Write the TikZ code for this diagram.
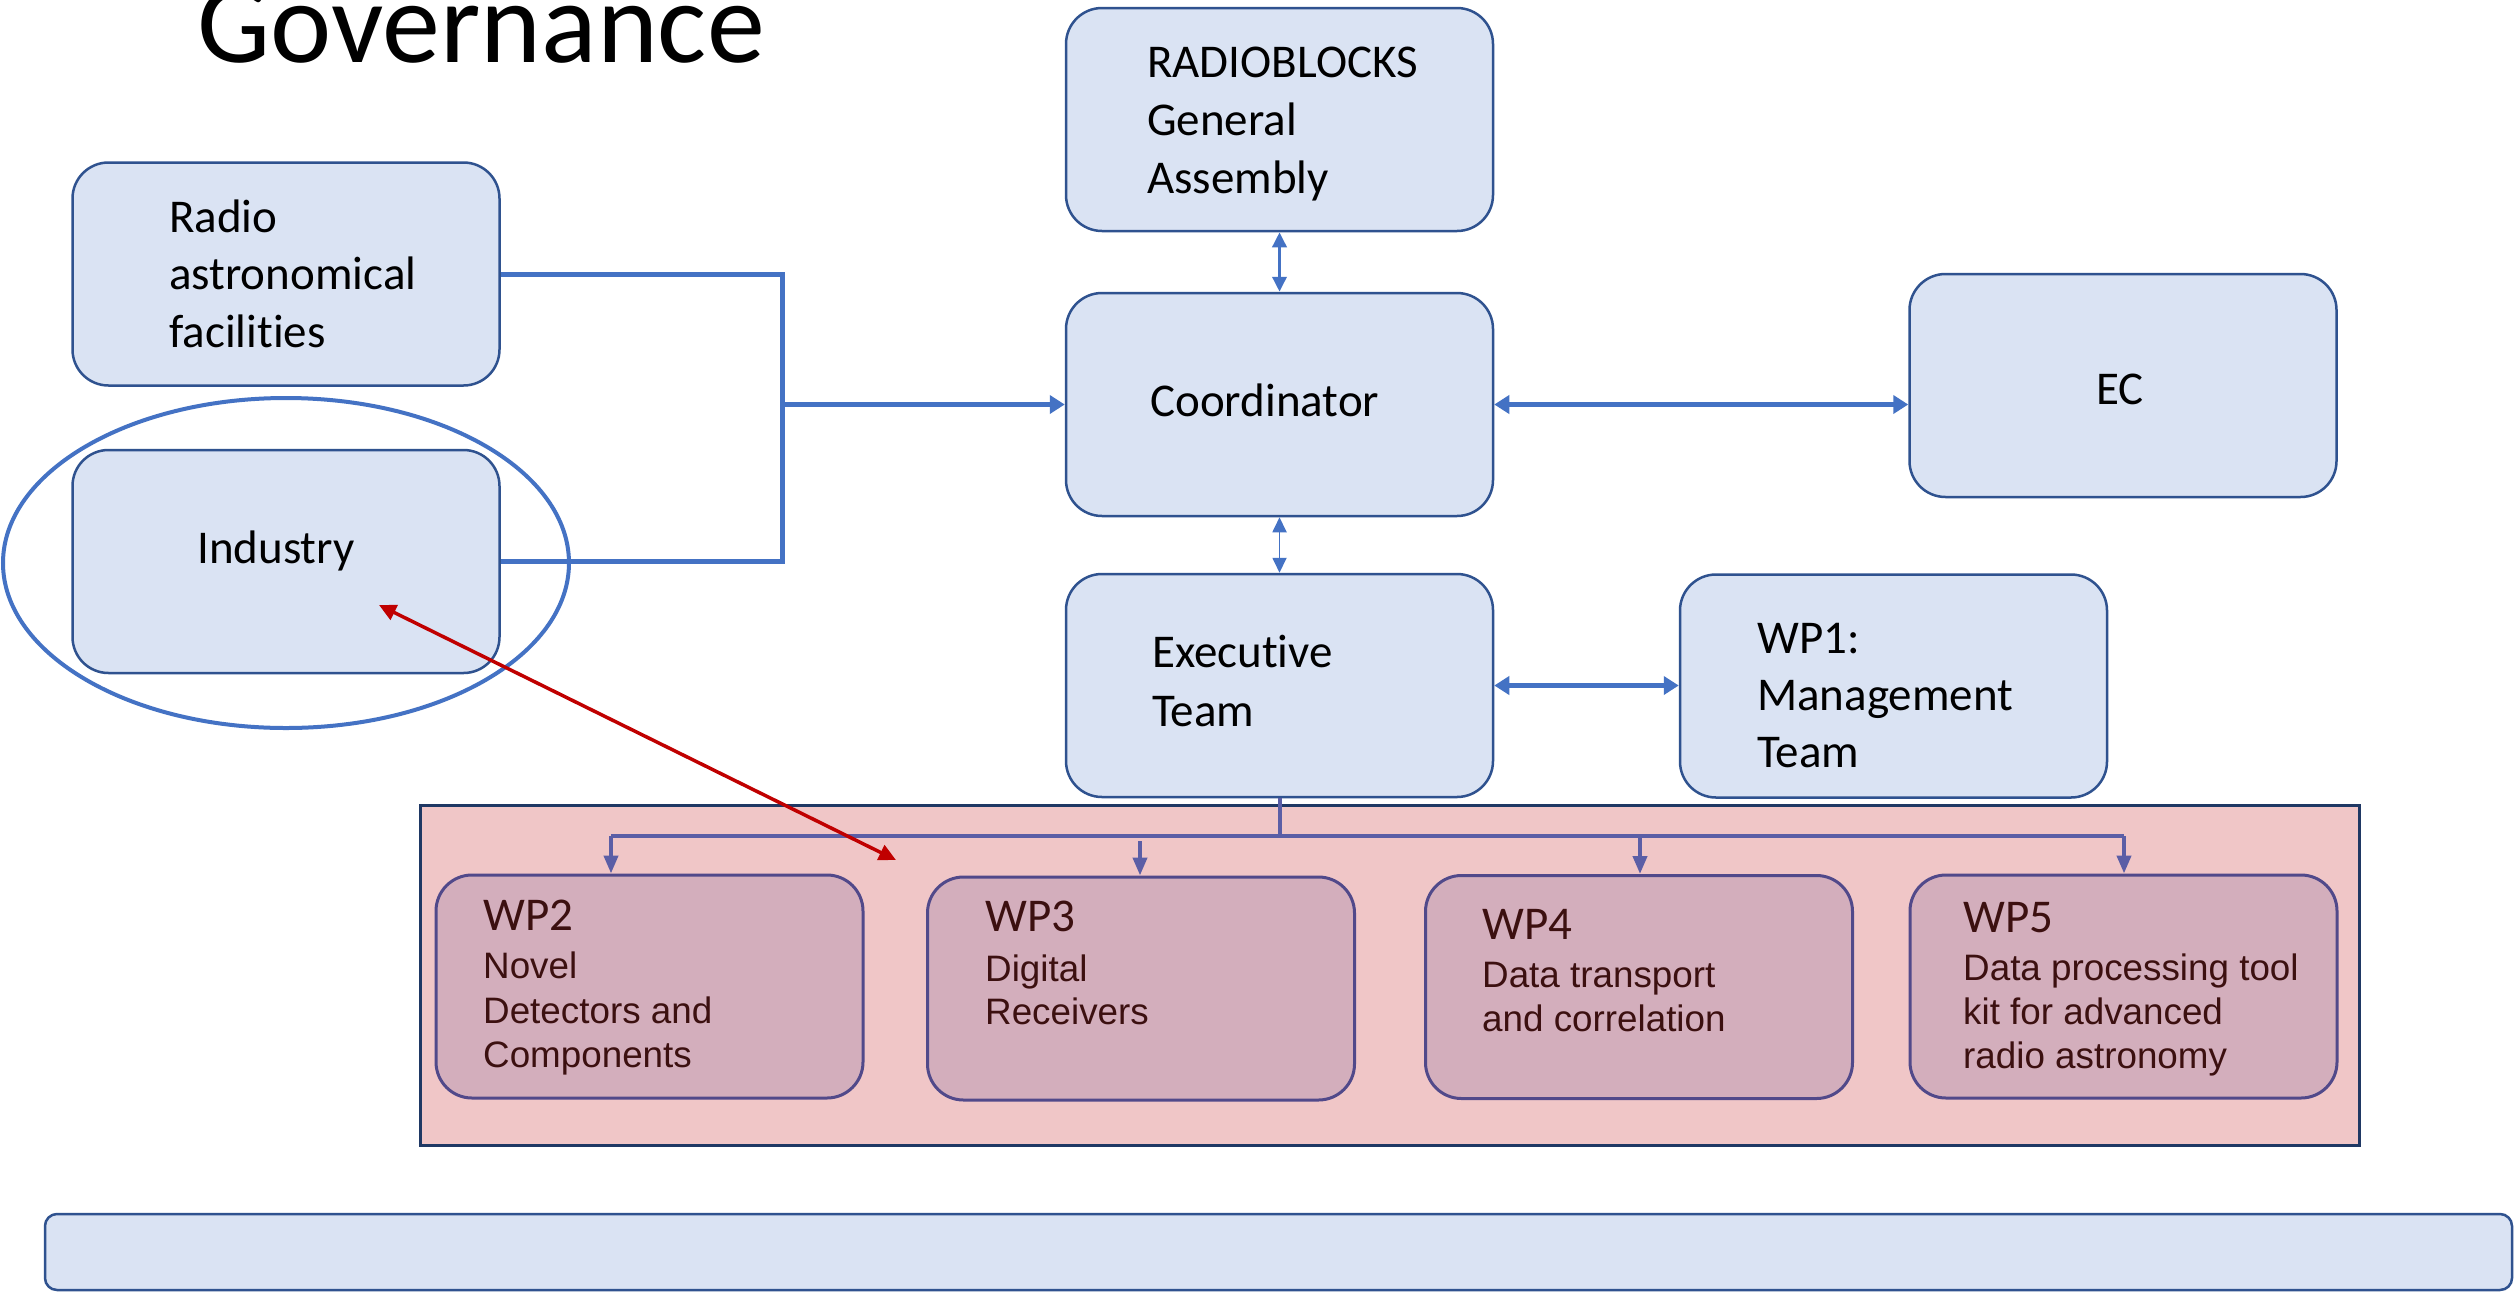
\documentclass[tikz,border=0pt]{standalone}
\usepackage{fontspec}
\setmainfont{Carlito}[Ligatures={NoCommon}]
\newfontfamily\arialf{Liberation Sans}
\usetikzlibrary{arrows.meta,shapes.geometric}
\definecolor{boxfill}{HTML}{DAE3F3}
\definecolor{bdr}{HTML}{2F528F}
\definecolor{lineblue}{HTML}{4472C4}
\definecolor{pinkfill}{HTML}{F0C6C7}
\definecolor{pinkbdr}{HTML}{1F3864}
\definecolor{wpfill}{HTML}{D3AEBC}
\definecolor{wpbdr}{HTML}{51498A}
\definecolor{busline}{HTML}{5B5EA6}
\definecolor{wptext}{HTML}{3C1010}
\definecolor{redline}{HTML}{C00000}
\begin{document}
\begin{tikzpicture}[x=1pt,y=-1pt,
  box/.style={draw=bdr, fill=boxfill, line width=2.5pt, rounded corners=36pt, inner sep=0pt, minimum width=427pt, minimum height=223pt},
  wpbox/.style={draw=wpbdr, fill=wpfill, line width=3pt, rounded corners=36pt, inner sep=0pt, minimum width=427pt, minimum height=223pt},
  lbl/.style={anchor=base west, inner sep=0pt, font=\fontsize{47}{47}\selectfont},
  wpt/.style={anchor=base west, inner sep=0pt, text=wptext, font=\fontsize{47}{47}\selectfont},
  wpd/.style={anchor=base west, inner sep=0pt, text=wptext, font=\arialf\fontsize{36.8}{36.8}\selectfont},
  feed/.style={draw=lineblue, line width=5pt},
  bigtip/.style={-{Triangle[width=18pt,length=15pt]}},
  dbltip/.style={{Triangle[width=18pt,length=15pt]}-{Triangle[width=18pt,length=15pt]}},
  smalldbl/.style={{Triangle[width=14pt,length=15pt]}-{Triangle[width=14pt,length=15pt]}},
  bus/.style={draw=busline, line width=4pt},
  bustip/.style={-{Triangle[width=14pt,length=18pt]}},
  redarrow/.style={draw=redline, line width=3.5pt, {Triangle[width=16pt,length=17pt]}-{Triangle[width=16pt,length=17pt]}}
]
\useasboundingbox[fill=white] (0,0) rectangle (2514,1291);

% title
\node[anchor=base west, inner sep=0pt, font=\fontsize{116}{116}\selectfont] (title) at (197,62) {Governance};

% upper boxes
\node[box] (radio) at (286,274) {};
\node[box] (industry) at (286,561.5) {};
\node[draw=lineblue, line width=4pt, ellipse, inner sep=0pt, minimum width=566pt, minimum height=330pt] (ell) at (286,563) {};
\node[box] (rb) at (1279.5,119.5) {};
\node[box] (coord) at (1279.5,404.5) {};
\node[box] (ec) at (2123,385.5) {};
\node[box] (exec) at (1279.5,685.5) {};
\node[box] (wp1) at (1893.5,686) {};

% texts upper
\node[lbl] (t1a) at (169,232) {Radio};
\node[lbl] (t1b) at (169,289) {astronomical};
\node[lbl] (t1c) at (169,347) {facilities};
\node[lbl] (t2) at (197,563) {Industry};
\node[lbl] (t3a) at (1147,77) {RADIOBLOCKS};
\node[lbl] (t3b) at (1147,135) {General};
\node[lbl] (t3c) at (1147,193) {Assembly};
\node[lbl] (t4) at (1150,416) {Coordinator};
\node[lbl] (t5) at (2096,404) {EC};
\node[lbl] (t6a) at (1152,667) {Executive};
\node[lbl] (t6b) at (1152,726) {Team};
\node[lbl] (t7a) at (1757,653) {WP1:};
\node[lbl] (t7b) at (1757,710) {Management};
\node[lbl] (t7c) at (1757,767) {Team};

% connectors upper
\coordinate (j) at (782,404.5);
\draw[feed] (radio.east) -| (j);
\draw[feed] (industry.east) -| (j);
\draw[feed, bigtip] (j) -- (coord.west);
\draw[draw=lineblue, line width=3.5pt, smalldbl] (rb.south) -- (coord.north);
\draw[draw=lineblue, line width=1.8pt, smalldbl] (coord.south) -- (exec.north);
\draw[feed, dbltip] (coord.east) -- (coord.east -| ec.west);
\draw[feed, dbltip] (exec.east) -- (exec.east -| wp1.west);

% work package area
\node[draw=pinkbdr, fill=pinkfill, line width=3pt, inner sep=0pt, minimum width=1939pt, minimum height=340pt] (wparea) at (1389.5,975) {};
\node[wpbox] (wp2) at (649.5,986.5) {};
\node[wpbox] (wp3) at (1141,988.5) {};
\node[wpbox] (wp4) at (1639,987) {};
\node[wpbox] (wp5) at (2123.5,986.5) {};

\node[wpt] (w2a) at (483,930) {WP2};
\node[wpd] (w2b) at (483,978) {Novel};
\node[wpd] (w2c) at (483,1023) {Detectors and};
\node[wpd] (w2d) at (483,1067) {Components};
\node[wpt] (w3a) at (985,931) {WP3};
\node[wpd] (w3b) at (985,981) {Digital};
\node[wpd] (w3c) at (985,1024) {Receivers};
\node[wpt] (w4a) at (1482,939) {WP4};
\node[wpd] (w4b) at (1482,987) {Data transport};
\node[wpd] (w4c) at (1482,1031) {and correlation};
\node[wpt] (w5a) at (1963,932) {WP5};
\node[wpd] (w5b) at (1963,980) {Data processing tool};
\node[wpd] (w5c) at (1963,1024) {kit for advanced};
\node[wpd] (w5d) at (1963,1068) {radio astronomy};

% bus
\coordinate (bus) at (1279.5,836);
\coordinate (b2) at (611,836);
\coordinate (b3) at (1140,841);
\coordinate (b4) at (1640,836);
\coordinate (b5) at (2124,836);
\draw[bus] (exec.south) -- (bus);
\draw[bus] (b2) -- (b5);
\draw[bus, bustip] (b2) -- (b2 |- wp2.north);
\draw[bus, bustip] (b3) -- (b3 |- wp3.north);
\draw[bus, bustip] (b4) -- (b4 |- wp4.north);
\draw[bus, bustip] (b5) -- (b5 |- wp5.north);

% red link
\coordinate (r1) at (379,605);
\coordinate (r2) at (896,860);
\draw[redarrow] (r1) -- (r2);

% bottom bar
\node[draw=bdr, fill=boxfill, line width=2.5pt, rounded corners=12pt, inner sep=0pt, minimum width=2467pt, minimum height=76pt] (bar) at (1278.5,1252) {};
\end{tikzpicture}
\end{document}
